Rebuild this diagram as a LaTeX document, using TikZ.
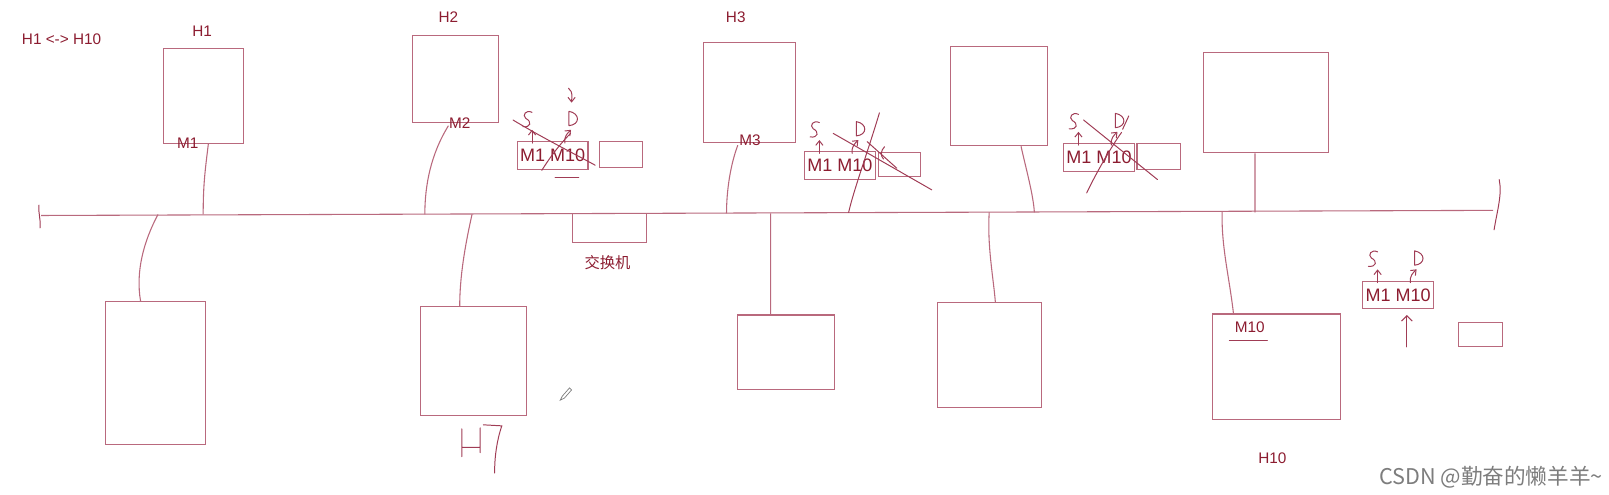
\documentclass[tikz,border=0pt]{standalone}
\usepackage{fontspec}
\setmainfont{Liberation Sans}
\newfontfamily\cjk{Noto Sans CJK SC}
\usetikzlibrary{fit,arrows.meta}

\definecolor{inkred}{RGB}{140,28,48}
\definecolor{boxpink}{RGB}{185,105,125}
\definecolor{penred}{RGB}{160,60,85}
\definecolor{wmgray}{RGB}{125,125,125}

% S and D marks above a frame
\tikzset{
  srcdst/.pic={
    \draw[pen] (15,-28) .. controls (9,-31) and (5,-25) .. (9,-22) .. controls (15,-19) and (14,-13) .. (6,-14);
    \draw[pen,-{Straight Barb[length=2.5pt,width=4pt]}] (15,2) -- (15,-11);
    \draw[pen] (51,-29) -- (51,-15) (51,-29) .. controls (62,-27) and (62,-16) .. (51,-15);
    \draw[pen,-{Straight Barb[length=2.5pt,width=4pt]}] (47,2) .. controls (46,-5) and (50,-8) .. (53,-11);
  }
}

\begin{document}
\begin{tikzpicture}[x=0.02cm, y=-0.02cm,
    host/.style={draw=boxpink, line width=0.6pt, inner sep=0pt},
    tag/.style={text=inkred, font=\fontsize{8.5}{10}\selectfont},
    frame/.style={draw=boxpink, line width=0.6pt, inner sep=0pt, minimum width=1.38cm, minimum height=0.54cm, text=inkred, font=\fontsize{10}{12}\selectfont},
    wire/.style={draw=boxpink, line width=0.6pt},
    pen/.style={draw=penred, line width=0.55pt, line cap=round}]
\useasboundingbox (0,0) rectangle (1568,482);

% bus
\coordinate (busL) at (40,210);
\coordinate (busR) at (1455,205);
\draw[wire] (busL) -- (busR);
\draw[pen] (38,200) .. controls (37,207) and (40,214) .. (39,222);
\draw[pen] (1461,175) .. controls (1464,190) and (1459,205) .. (1456,224);

% taps on the bus
\coordinate (t1) at (198,209);
\coordinate (t2) at (414,209);
\coordinate (t3) at (708,208);
\coordinate (t4) at (1008,207);
\coordinate (t5) at (1223,207);
\coordinate (u1) at (154,209);
\coordinate (u2) at (460,209);
\coordinate (u3) at (751,208);
\coordinate (u4) at (964,207);
\coordinate (u5) at (1191,206);

\node[tag] (pair) at (60,38) {H1 <-> H10};

% upper hosts
\node[host, fit={(159,47) (237,140)}] (h1) {};
\node[host, fit={(402,35) (486,119)}] (h2) {};
\node[host, fit={(686,41) (775,139)}] (h3) {};
\node[host, fit={(926,45) (1021,142)}] (h4) {};
\node[host, fit={(1173,51) (1295,149)}] (h5) {};
\node[tag] (h1lbl) at (197,30) {H1};
\node[tag] (h2lbl) at (437,17) {H2};
\node[tag] (h3lbl) at (717,17) {H3};
\node[tag] (m1lbl) at (183,140) {M1};
\node[tag] (m2lbl) at (448,120) {M2};
\node[tag] (m3lbl) at (731,137) {M3};

\draw[wire] ([xshift=0.1cm]h1.south) .. controls +(-3,25) and +(0,-30) .. (t1);
\draw[wire] ([xshift=-0.14cm,yshift=-0.06cm]h2.south) .. controls (420,150) and (414,180) .. (t2);
\draw[wire] ([xshift=-0.23cm,yshift=-0.04cm]h3.south) .. controls (712,160) and (708,185) .. (t3);
\draw[wire] ([xshift=0.43cm]h4.south) .. controls (1000,165) and (1007,190) .. (t4);
\draw[wire] ([xshift=-0.22cm]h5.south) -- (t5);

% lower hosts
\node[host, fit={(103,294) (200,433)}] (b1) {};
\node[host, fit={(410,299) (513,405)}] (b2) {};
\node[host, fit={(719,307) (813,380)}] (b3) {};
\node[host, fit={(914,295) (1015,397)}] (b4) {};
\node[host, fit={(1182,306) (1306,409)}] (b5) {};
\node[tag] (m10lbl) at (1218,319) {M10};
\node[tag] (h10lbl) at (1240,447) {H10};
\draw[pen] (1198,332) -- (1235,332);

\draw[wire] (u1) .. controls (140,235) and (132,265) .. ([xshift=-0.29cm]b1.north);
\draw[wire] (u2) .. controls (453,240) and (448,270) .. ([xshift=-0.27cm]b2.north);
\draw[wire] (u3) -- ([xshift=-0.3cm]b3.north);
\draw[wire] (u4) .. controls (962,240) and (968,270) .. ([xshift=0.11cm]b4.north);
\draw[wire] (u5) .. controls (1190,240) and (1198,270) .. ([xshift=-0.84cm]b5.north);

% switch
\node[host, fit={(558,208) (630,236)}] (sw) {};
\node[tag, font=\cjk\fontsize{8.5}{10}\selectfont] (swlbl) at (592,256) {交换机};

% frames
\node[frame] (f1) at (538.5,151.5) {M1 M10};
\node[host, fit={(584,138) (626,163)}] (s1) {};
\node[frame] (f2) at (818.5,161.5) {M1 M10};
\node[host, fit={(856,149) (897,172)}] (s2) {};
\node[frame] (f3) at (1071,153.5) {M1 M10};
\node[host, fit={(1108,140) (1150,165)}] (s3) {};
\node[frame] (f4) at (1362.5,287.5) {M1 M10};
\node[host, fit={(1421,314) (1464,338)}] (s4) {};

\pic at (f1.north west) {srcdst};
\pic at (f2.north west) {srcdst};
\pic at (f3.north west) {srcdst};
\pic at (f4.north west) {srcdst};

% crossings out
\draw[pen] (500,117) .. controls (530,135) and (560,150) .. (580,161);
\draw[pen] (528,166) .. controls (538,150) and (548,138) .. (556,130);
\draw[pen,-{Straight Barb[length=2.5pt,width=4pt]}] (554,86) .. controls (559,90) and (557,95) .. (557,100);
\draw[pen] (541,173) -- (564,173);
\draw[pen] (812,130) -- (908,185);
\draw[pen] (857,110) .. controls (845,150) and (832,185) .. (827,207);
\draw[pen] (845,138) -- (874,164);
\draw[pen] (862,143) .. controls (858,147) and (858,152) .. (861,155);
\draw[pen] (1056,117) -- (1128,175);
\draw[pen] (1059,188) .. controls (1070,165) and (1085,140) .. (1093,129);
\draw[pen] (1094,126) -- (1100,113);
\draw[pen,-{Straight Barb[length=3pt,width=6pt]}] (1371,338) -- (1371,307);

% handwriting under b2
\draw[pen] (450,418) -- (450,445) (451,436) -- (468,436) (468,417) -- (468,441)
  (471,414) -- (489,415) .. controls (484,430) and (482,445) .. (482,461);

% pen cursor
\draw[wmgray, line width=0.4pt] (546,390) -- (548,386) -- (555,378) -- (557,380) -- (550,388) -- cycle;

\node[text=wmgray, font=\cjk\fontsize{12}{14}\selectfont] (wm) at (1453,465) {CSDN @勤奋的懒羊羊\textasciitilde};
\end{tikzpicture}
\end{document}
